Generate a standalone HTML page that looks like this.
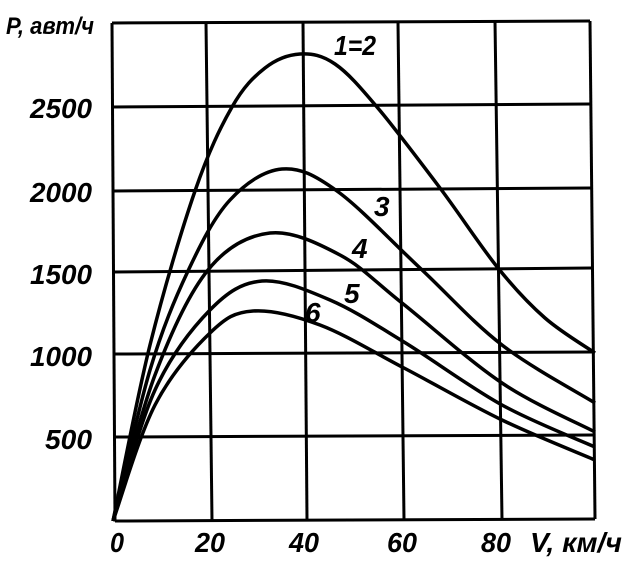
<!DOCTYPE html>
<html><head><meta charset="utf-8"><style>
html,body{margin:0;padding:0;background:#fff;}
svg text{font-family:"Liberation Sans",sans-serif;font-style:italic;font-weight:bold;fill:#000;}
</style></head><body>
<svg width="630" height="560" viewBox="0 0 630 560" xmlns="http://www.w3.org/2000/svg">
<g stroke="#000" stroke-width="3" fill="none">
<line x1="112" y1="23" x2="590" y2="21"/>
<line x1="112" y1="107" x2="590" y2="104"/>
<line x1="113" y1="191" x2="591" y2="188"/>
<line x1="113" y1="272" x2="592" y2="268"/>
<line x1="114" y1="354" x2="593" y2="352"/>
<line x1="114" y1="437" x2="594" y2="435"/>
<line x1="115" y1="521" x2="595" y2="519"/>
<line x1="112" y1="23" x2="115" y2="521"/>
<line x1="206" y1="22" x2="212" y2="521"/>
<line x1="303" y1="22" x2="307" y2="520"/>
<line x1="398" y1="22" x2="404" y2="520"/>
<line x1="495" y1="21" x2="502" y2="520"/>
<line x1="590" y1="21" x2="595" y2="519"/>
</g>
<g stroke="#000" stroke-width="3.5" fill="none">
<path id="c1"/><path id="c3"/><path id="c4"/><path id="c5"/><path id="c6"/>
</g>
<g font-size="28">
<text x="6" y="34" textLength="88" lengthAdjust="spacingAndGlyphs" font-size="24">P, авт/ч</text>
<text x="30" y="118" textLength="62" lengthAdjust="spacingAndGlyphs">2500</text>
<text x="30" y="202" textLength="62" lengthAdjust="spacingAndGlyphs">2000</text>
<text x="30" y="284" textLength="62" lengthAdjust="spacingAndGlyphs">1500</text>
<text x="30" y="366" textLength="62" lengthAdjust="spacingAndGlyphs">1000</text>
<text x="45" y="449" textLength="47" lengthAdjust="spacingAndGlyphs">500</text>
<text x="110" y="552" textLength="14" lengthAdjust="spacingAndGlyphs">0</text>
<text x="195" y="552" textLength="30" lengthAdjust="spacingAndGlyphs">20</text>
<text x="289" y="552" textLength="30" lengthAdjust="spacingAndGlyphs">40</text>
<text x="387" y="552" textLength="30" lengthAdjust="spacingAndGlyphs">60</text>
<text x="481" y="552" textLength="30" lengthAdjust="spacingAndGlyphs">80</text>
<text x="530" y="552" textLength="92" lengthAdjust="spacingAndGlyphs">V, км/ч</text>
<text x="334" y="55" textLength="42" lengthAdjust="spacingAndGlyphs">1=2</text>
<text x="374" y="216">3</text>
<text x="352" y="258">4</text>
<text x="344" y="303">5</text>
<text x="305" y="322">6</text>
</g>
</svg>
<script>
function cr(p){var d="M"+p[0][0]+","+p[0][1];for(var i=0;i<p.length-1;i++){var a=p[i-1]||p[i],b=p[i],c=p[i+1],e=p[i+2]||c;d+=" C"+(b[0]+(c[0]-a[0])/6).toFixed(1)+","+(b[1]+(c[1]-a[1])/6).toFixed(1)+" "+(c[0]-(e[0]-b[0])/6).toFixed(1)+","+(c[1]-(e[1]-b[1])/6).toFixed(1)+" "+c[0]+","+c[1];}return d;}
var D={
c1:[[113,521],[150,345],[195,191],[232,107],[265,68],[300,54],[335,64],[377,107],[440,188],[498,268],[545,318],[595,353]],
c3:[[113,521],[150,370],[188,271],[230,200],[282,169],[337,191],[420,268],[502,345],[595,403]],
c4:[[113,521],[155,375],[208,270],[270,233],[340,255],[402,303],[502,383],[595,432]],
c5:[[113,521],[155,390],[210,310],[262,281],[330,300],[404,342],[502,405],[595,447]],
c6:[[113,521],[155,405],[210,333],[253,311],[320,325],[404,368],[502,420],[595,460]]};
for(var k in D)document.getElementById(k).setAttribute("d",cr(D[k]));
</script>
</body></html>
